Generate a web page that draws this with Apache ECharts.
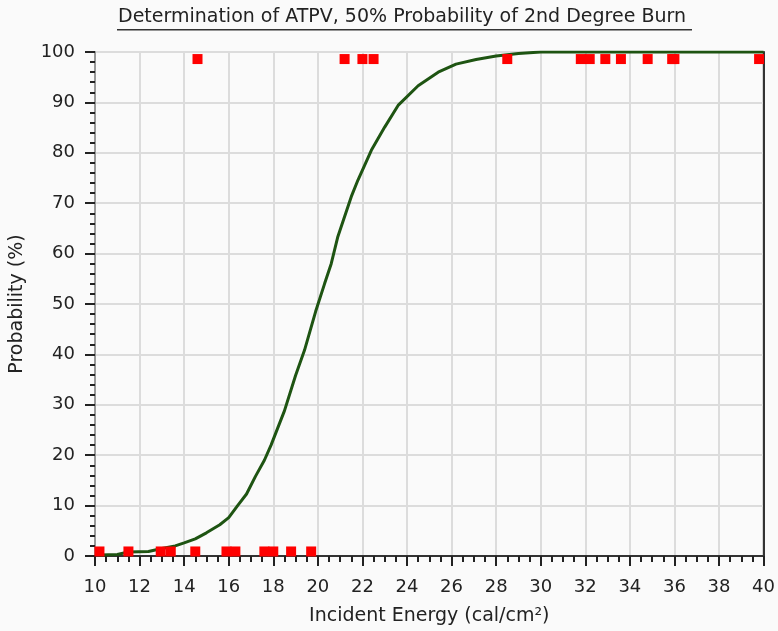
<!DOCTYPE html>
<html>
<head>
<meta charset="utf-8">
<script src="https://cdn.jsdelivr.net/npm/echarts@6/dist/echarts.min.js"></script>
<style>
html,body{margin:0;padding:0;background:#fafafa;}
#c{width:778px;height:631px;}
</style>
</head>
<body>
<div id="c"></div>
<script>
var titleText = "Determination of ATPV, 50% Probability of 2nd Degree Burn";
var xName = "Incident Energy (cal/cm²)";
var yName = "Probability (%)";

// fitted probability curve
var curveX = [10.2, 11, 11.5, 12.4, 13, 13.6, 14, 14.5, 15, 15.6, 16, 16.4, 16.8, 17.2, 17.6, 17.9, 18.5, 19.0, 19.4, 19.9, 20.3, 20.6, 20.9, 21.5, 21.8, 22.4, 23.0, 23.6, 24.5, 25.4, 26.2, 27.1, 28.0, 29.0, 30.0, 40];
var curveY = [0.2, 0.3, 0.8, 0.9, 1.5, 2.0, 2.6, 3.4, 4.6, 6.2, 7.6, 10.0, 12.3, 15.8, 19.0, 22.0, 28.8, 35.8, 40.8, 48.5, 54.0, 58.0, 63.4, 71.3, 74.6, 80.5, 85.1, 89.4, 93.3, 96.0, 97.6, 98.5, 99.2, 99.7, 100, 100];

// observed results: burn (top) / no burn (bottom)
var burnX = [14.6, 21.2, 22.0, 22.5, 28.5, 31.8, 32.2, 32.9, 33.6, 34.8, 35.9, 36.0, 39.8];
var burnLevel = 98.6;
var noBurnX = [10.2, 11.5, 12.95, 13.4, 14.5, 15.9, 16.3, 17.6, 18.0, 18.8, 19.7];
var noBurnLevel = 0.9;

function pairs(xs, ys){ return xs.map(function(x,i){ return [x, ys[i]]; }); }
function level(xs, v){ return xs.map(function(x){ return [x, v]; }); }

var chart = echarts.init(document.getElementById('c'));
var font = '"DejaVu Sans", Verdana, sans-serif';
chart.setOption({
  backgroundColor: '#fafafa',
  animation: false,
  graphic: [
    {type:'text', left: 118, top: 8, style:{text: titleText, font: '19px ' + font, fill:'#222'}},
    {type:'rect', left: 117, top: 29, shape:{width: 575, height: 1.5}, style:{fill:'#333'}}
  ],
  grid: {left: 95, right: 9, top: 52, bottom: 74, show: true, borderColor: '#aaa', borderWidth: 2},
  xAxis: {
    type: 'value', min: 10, max: 40, interval: 2,
    name: xName, nameLocation: 'middle', nameGap: 51,
    nameTextStyle: {fontFamily: font, fontSize: 19, color: '#222'},
    axisLine: {onZero: false, lineStyle: {color: '#333', width: 2}},
    axisTick: {inside: false, length: 10, lineStyle: {color: '#222', width: 2}},
    minorTick: {show: true, splitNumber: 4, length: 6, lineStyle: {color: '#222', width: 2}},
    axisLabel: {fontFamily: font, fontSize: 18, color: '#222', margin: 22},
    splitLine: {show: true, lineStyle: {color: '#dcdcdc', width: 2}}
  },
  yAxis: [{
    type: 'value', min: 0, max: 100, interval: 10,
    name: yName, nameLocation: 'middle', nameGap: 68,
    nameTextStyle: {fontFamily: font, fontSize: 19, color: '#222'},
    axisLine: {show: true, lineStyle: {color: '#999', width: 2}},
    axisTick: {show: true, inside: false, length: 10, lineStyle: {color: '#222', width: 2}},
    minorTick: {show: true, splitNumber: 5, length: 5, lineStyle: {color: '#222', width: 2}},
    axisLabel: {fontFamily: font, fontSize: 18, color: '#222', margin: 20},
    splitLine: {show: true, lineStyle: {color: '#dcdcdc', width: 2}}
  }, {
    type: 'value', min: 0, max: 100, interval: 10, position: 'right',
    axisLine: {show: true, lineStyle: {color: '#333', width: 2}},
    axisTick: {show: false}, axisLabel: {show: false}, splitLine: {show: false}
  }],
  series: [
    {type: 'line', data: pairs(curveX, curveY), showSymbol: false, symbol: 'none',
     lineStyle: {color: '#1e5412', width: 3}, z: 3},
    {type: 'scatter', data: level(noBurnX, noBurnLevel), symbol: 'rect', symbolSize: 10,
     itemStyle: {color: '#ff0000', opacity: 1}, z: 4},
    {type: 'scatter', data: level(burnX, burnLevel), symbol: 'rect', symbolSize: 10,
     itemStyle: {color: '#ff0000', opacity: 1}, z: 4}
  ]
});
</script>
</body>
</html>
